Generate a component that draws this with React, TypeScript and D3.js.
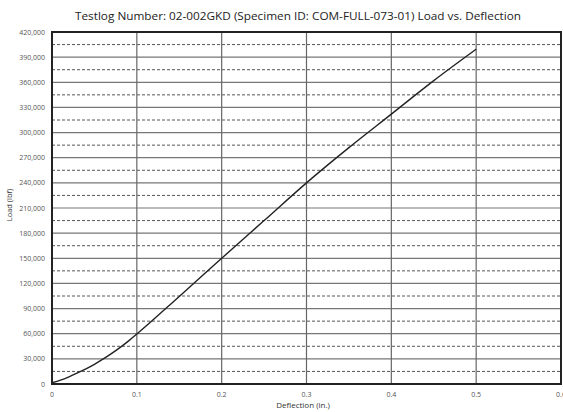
import React from "react";
import * as d3 from "d3";

const deflection = [0, 0.01, 0.02, 0.03, 0.04, 0.05, 0.06, 0.07, 0.08, 0.09, 0.1, 0.15, 0.2, 0.25, 0.3, 0.35, 0.4, 0.45, 0.5];
const load = [1500, 4600, 8600, 13200, 18100, 23500, 29600, 36200, 43400, 51200, 59600, 104500, 150000, 195000, 240000, 282000, 322000, 362000, 399500];
const xTicks = [0, 0.1, 0.2, 0.3, 0.4, 0.5, 0.6];
const yMajor = [0, 30000, 60000, 90000, 120000, 150000, 180000, 210000, 240000, 270000, 300000, 330000, 360000, 390000, 420000];
const yMinor = [15000, 45000, 75000, 105000, 135000, 165000, 195000, 225000, 255000, 285000, 315000, 345000, 375000, 405000];

const W = 563, H = 412;
const left = 52, right = 561, top = 32, bottom = 384;

export default function App() {
  const x = d3.scaleLinear().domain([0, 0.6]).range([left, right]);
  const y = d3.scaleLinear().domain([0, 420000]).range([bottom, top]);
  const pts = deflection.map((d, i) => [d, load[i]] as [number, number]);
  const line = d3.line<[number, number]>().x(d => x(d[0])).y(d => y(d[1])).curve(d3.curveMonotoneX);
  const fmt = d3.format(",");
  const font = "'Open Sans', 'Liberation Sans', sans-serif";
  return (
    <svg width={W} height={H} style={{ position: "absolute", left: 0, top: 0, background: "#fff" }} fontFamily={font}>
      <rect x={0} y={0} width={W} height={H} fill="#fff" />
      <text x={298} y={20} textAnchor="middle" fontSize={11.5} fill="#222" textLength={446} lengthAdjust="spacingAndGlyphs">
        Testlog Number: 02-002GKD (Specimen ID: COM-FULL-073-01) Load vs. Deflection
      </text>
      {yMinor.map(v => (
        <line key={"mn" + v} x1={left} x2={right} y1={y(v)} y2={y(v)} stroke="#444" strokeWidth={0.9} strokeDasharray="3,2" />
      ))}
      {yMajor.map(v => (
        <line key={"mj" + v} x1={left} x2={right} y1={y(v)} y2={y(v)} stroke="#777" strokeWidth={1.2} />
      ))}
      {xTicks.map(v => (
        <line key={"vx" + v} x1={x(v)} x2={x(v)} y1={top} y2={bottom} stroke="#666" strokeWidth={1.2} />
      ))}
      <path d={line(pts) || ""} fill="none" stroke="#222" strokeWidth={1.4} />
      <rect x={left} y={top} width={right - left} height={bottom - top} fill="none" stroke="#222" strokeWidth={2} />
      {yMajor.map(v => (
        <text key={"yl" + v} x={45} y={y(v) + 2.5} textAnchor="end" fontSize={7} fill="#555">{fmt(v)}</text>
      ))}
      {xTicks.map(v => (
        <text key={"xl" + v} x={x(v)} y={397} textAnchor="middle" fontSize={7} fill="#555">{v === 0 ? "0" : v.toFixed(1)}</text>
      ))}
      <text x={303} y={408} textAnchor="middle" fontSize={8} fill="#333">Deflection (in.)</text>
      <text transform={`translate(12,205) rotate(-90)`} textAnchor="middle" fontSize={7.5} fill="#333">Load (lbf)</text>
    </svg>
  );
}
